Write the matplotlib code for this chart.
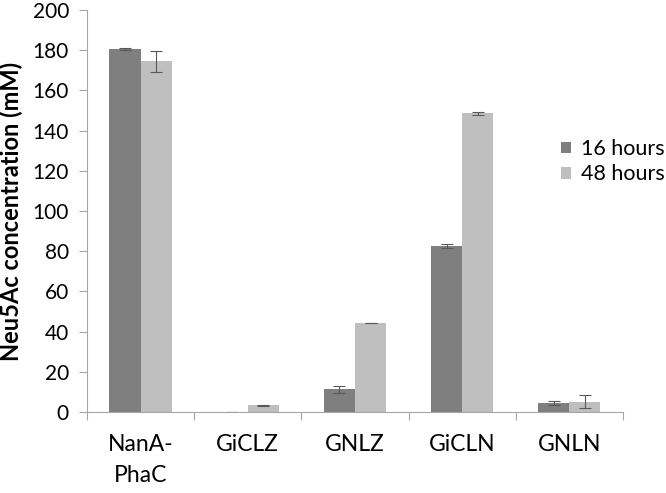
import numpy as np
import matplotlib
matplotlib.use("Agg")
import matplotlib.pyplot as plt

# data
categories = ["NanA-\nPhaC", "GiCLZ", "GNLZ", "GiCLN", "GNLN"]
series_names = ["16 hours", "48 hours"]
vals_16h = [180.6, 0.0, 11.3, 82.6, 4.4]
err_16h = [0.4, 0.0, 1.8, 1.0, 1.0]
vals_48h = [174.6, 3.3, 44.3, 148.6, 5.2]
err_48h = [5.2, 0.2, 0.2, 0.6, 3.4]
yticks = list(range(0, 201, 20))

plt.rcParams['font.family'] = ['Lato', 'DejaVu Sans']

fig = plt.figure(figsize=(6.66, 4.93), dpi=100)
ax = fig.add_axes([0.1306, 0.1643, 0.8048, 0.8154])

x = np.arange(len(categories))
w = 0.29
ekw = dict(ecolor="#595959", elinewidth=0.8, capsize=4, capthick=0.8)
ax.bar(x - w/2, vals_16h, w, yerr=err_16h, color="#7f7f7f", label=series_names[0],
       error_kw=ekw, edgecolor="none")
ax.bar(x + w/2, vals_48h, w, yerr=err_48h, color="#bfbfbf", label=series_names[1],
       error_kw=ekw, edgecolor="none")

ax.set_xlim(-0.5, len(categories) - 0.5)
ax.set_ylim(0, 200)
ax.set_yticks(yticks)
ax.set_xticks(x)
ax.set_xticklabels(categories, fontsize=16.5, linespacing=1.6, va="top")
ax.set_xticks(np.arange(len(categories) + 1) - 0.5, minor=True)
ax.tick_params(axis="x", which="major", length=0, pad=16)
ax.tick_params(axis="x", which="minor", length=6, color="#a6a6a6", width=0.8)
ax.tick_params(axis="y", length=6, color="#a6a6a6", width=0.8, pad=7, labelsize=15)

for s in ["top", "right"]:
    ax.spines[s].set_visible(False)
for s in ["left", "bottom"]:
    ax.spines[s].set_color("#a6a6a6")
    ax.spines[s].set_linewidth(0.8)

ax.set_ylabel("Neu5Ac concentration (mM)", fontsize=17, fontweight="bold", labelpad=7)

ax.legend(loc="center left", bbox_to_anchor=(0.83, 0.672), bbox_transform=fig.transFigure,
          frameon=False, fontsize=15.5, handlelength=0.45, handleheight=0.45,
          handletextpad=0.45, labelspacing=0.25, borderaxespad=0)

fig.savefig("out.png", dpi=100)
